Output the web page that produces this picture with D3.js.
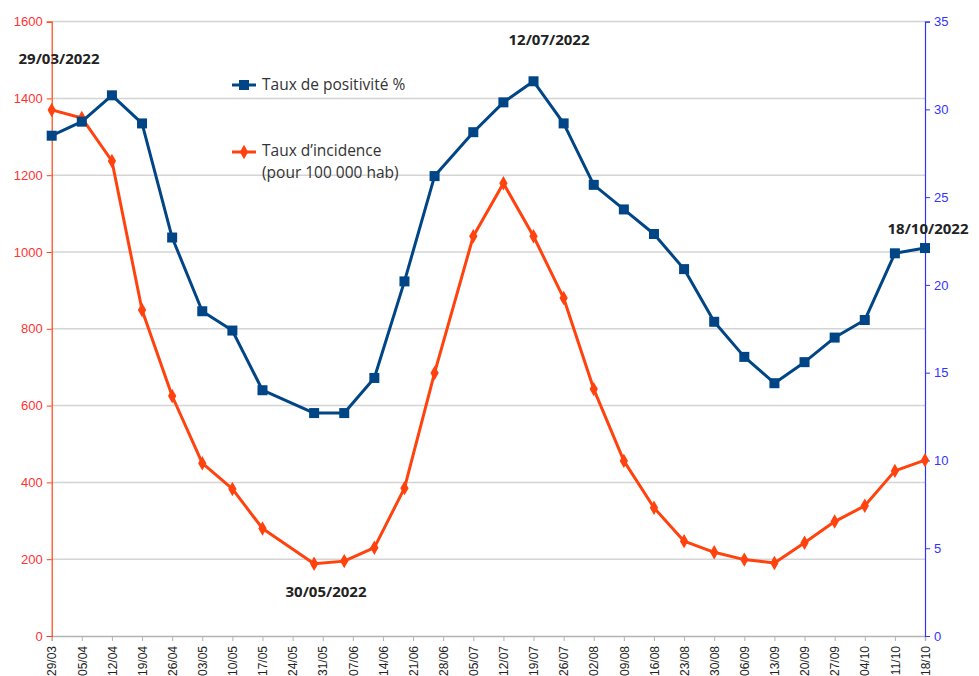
<!DOCTYPE html>
<html>
<head>
<meta charset="utf-8">
<script src="https://cdn.jsdelivr.net/npm/d3@7"></script>
<style>
  body { margin: 0; background: #fff; }
  svg text { font-family: "Liberation Sans", Arial, sans-serif; }
</style>
</head>
<body>
<div id="chart"></div>
<script>
// weekly dates (dd/mm/yyyy) and the two series
const dates = ["29/03/2022","05/04/2022","12/04/2022","19/04/2022","26/04/2022","03/05/2022","10/05/2022","17/05/2022",
  "29/05/2022","05/06/2022","12/06/2022","19/06/2022","26/06/2022","05/07/2022","12/07/2022","19/07/2022","26/07/2022",
  "02/08/2022","09/08/2022","16/08/2022","23/08/2022","30/08/2022","06/09/2022","13/09/2022","20/09/2022","27/09/2022",
  "04/10/2022","11/10/2022","18/10/2022"];
const positivite = [28.5, 29.3, 30.8, 29.2, 22.7, 18.5, 17.4, 14.0, 12.7, 12.7, 14.7, 20.2, 26.2, 28.7, 30.4, 31.6, 29.2,
  25.7, 24.3, 22.9, 20.9, 17.9, 15.9, 14.4, 15.6, 17.0, 18.0, 21.8, 22.1];
const incidence = [1370, 1349, 1237, 849, 625, 450, 383, 280, 188, 195, 230, 385, 685, 1041, 1179, 1041, 880,
  643, 456, 334, 247, 218, 199, 190, 243, 298, 339, 430, 458];
const leftTicks = [0, 200, 400, 600, 800, 1000, 1200, 1400, 1600];
const rightTicks = [0, 5, 10, 15, 20, 25, 30, 35];
const notes = [
  {label: "29/03/2022", x: 59, y: 64},
  {label: "12/07/2022", x: 549, y: 45},
  {label: "30/05/2022", x: 326, y: 597},
  {label: "18/10/2022", x: 928, y: 234}
];

const canvWidth = 979, canvHeight = 676;
const margin = {top: 21.6, right: 54, bottom: 40, left: 51.7};

const svg = d3.select("#chart").append("svg")
    .attr("width", canvWidth)
    .attr("height", canvHeight);

const parse = d3.timeParse("%d/%m/%Y");
const data = dates.map((d, i) => ({date: parse(d), pos: positivite[i], inc: incidence[i]}));

const x = d3.scaleTime()
    .domain([parse("29/03/2022"), parse("18/10/2022")])
    .range([margin.left, canvWidth - margin.right]);
const yL = d3.scaleLinear().domain([0, 1600]).range([636, margin.top]);
const yR = d3.scaleLinear().domain([0, 35]).range([636, margin.top]);

// gridlines
svg.append("g")
  .selectAll("line")
  .data(leftTicks.slice(1))
  .join("line")
    .attr("x1", margin.left).attr("x2", canvWidth - margin.right)
    .attr("y1", d => yL(d)).attr("y2", d => yL(d))
    .attr("stroke", "#d4d4d4").attr("stroke-width", 1.5);

// x axis, one tick per week
const xTicks = d3.range(30).map(i => d3.timeDay.offset(parse("29/03/2022"), 7 * i));
const xAxis = svg.append("g")
    .attr("transform", "translate(0,636)")
    .call(d3.axisBottom(x).tickValues(xTicks).tickFormat(d3.timeFormat("%d/%m")).tickSizeOuter(0).tickSize(5));
xAxis.select(".domain").attr("stroke", "#b3b3b3").attr("stroke-width", 1.5);
xAxis.selectAll(".tick line").attr("stroke", "#b3b3b3");
xAxis.selectAll(".tick text")
    .attr("transform", "rotate(-90)")
    .attr("text-anchor", "end")
    .attr("x", -10).attr("y", 0).attr("dy", "0.35em")
    .attr("font-size", 12).attr("fill", "#222");

// left axis
const leftAxis = svg.append("g")
    .attr("transform", `translate(${margin.left},0)`)
    .call(d3.axisLeft(yL).tickValues(leftTicks).tickFormat(d3.format("d")).tickSizeOuter(0).tickSize(5).tickPadding(4));
leftAxis.select(".domain").attr("stroke", "#ff420e").attr("stroke-width", 1.2);
leftAxis.selectAll(".tick line").attr("stroke", "#ff420e");
leftAxis.selectAll(".tick text").attr("font-size", 13).attr("fill", "#ff3333");

// right axis
const rightAxis = svg.append("g")
    .attr("transform", `translate(${canvWidth - margin.right},0)`)
    .call(d3.axisRight(yR).tickValues(rightTicks).tickSizeOuter(0).tickSize(5).tickPadding(4));
rightAxis.select(".domain").attr("stroke", "#3333ff").attr("stroke-width", 1.2);
rightAxis.selectAll(".tick line").attr("stroke", "#3333ff");
rightAxis.selectAll(".tick text").attr("font-size", 13).attr("fill", "#3333ff");

// incidence line (orange, left axis)
svg.append("path")
    .datum(data)
    .attr("fill", "none")
    .attr("stroke", "#ff420e")
    .attr("stroke-width", 3)
    .attr("stroke-linejoin", "round")
    .attr("d", d3.line().x(d => x(d.date)).y(d => yL(d.inc)));
const diamond = d3.symbol().type(d3.symbolDiamond).size(60);
svg.append("g")
  .selectAll("path")
  .data(data)
  .join("path")
    .attr("transform", d => `translate(${x(d.date)},${yL(d.inc)})`)
    .attr("d", diamond)
    .attr("fill", "#ff420e");

// positivity line (blue, right axis)
svg.append("path")
    .datum(data)
    .attr("fill", "none")
    .attr("stroke", "#004586")
    .attr("stroke-width", 3)
    .attr("stroke-linejoin", "round")
    .attr("d", d3.line().x(d => x(d.date)).y(d => yR(d.pos)));
svg.append("g")
  .selectAll("rect")
  .data(data)
  .join("rect")
    .attr("x", d => x(d.date) - 5)
    .attr("y", d => yR(d.pos) - 5)
    .attr("width", 10).attr("height", 10)
    .attr("fill", "#004586");

// legend
const legend = svg.append("g").attr("font-size", 15.5).attr("fill", "#333");
legend.append("line").attr("x1", 232).attr("x2", 256).attr("y1", 85).attr("y2", 85)
    .attr("stroke", "#004586").attr("stroke-width", 3);
legend.append("rect").attr("x", 239).attr("y", 80).attr("width", 10).attr("height", 10).attr("fill", "#004586");
legend.append("text").attr("x", 262).attr("y", 85).attr("dy", "0.35em")
    .style("font-family", "'Open Sans', sans-serif").text("Taux de positivité %");

legend.append("line").attr("x1", 232).attr("x2", 256).attr("y1", 152).attr("y2", 152)
    .attr("stroke", "#ff420e").attr("stroke-width", 3);
legend.append("path").attr("transform", "translate(244,152)").attr("d", diamond).attr("fill", "#ff420e");
legend.append("text").attr("x", 262).attr("y", 151).attr("dy", "0.35em")
    .style("font-family", "'Open Sans', sans-serif").text("Taux d’incidence");
legend.append("text").attr("x", 262).attr("y", 172.5).attr("dy", "0.35em")
    .style("font-family", "'Open Sans', sans-serif").text("(pour 100 000 hab)");

// date annotations
svg.append("g")
  .selectAll("text")
  .data(notes)
  .join("text")
    .attr("x", d => d.x).attr("y", d => d.y)
    .attr("text-anchor", "middle")
    .style("font-family", "'Open Sans', sans-serif")
    .attr("font-size", 15).attr("font-weight", "bold").attr("fill", "#222")
    .text(d => d.label);
</script>
</body>
</html>
